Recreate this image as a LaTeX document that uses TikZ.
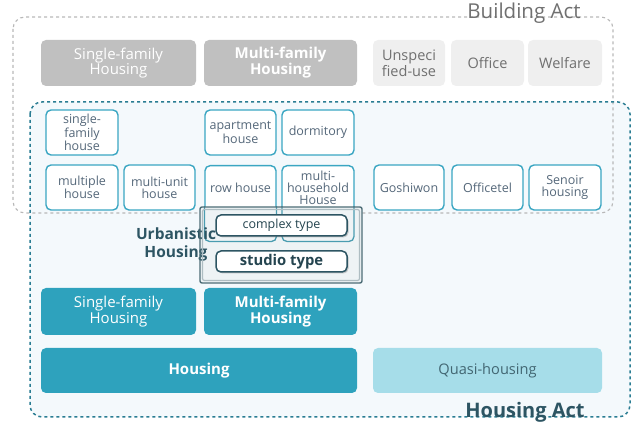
\documentclass[tikz,border=0pt]{standalone}
\usepackage{fontspec}
\setmainfont{Open Sans}
\usetikzlibrary{shadows}
\definecolor{teal1}{HTML}{2EA2BD}
\definecolor{tealline}{HTML}{3AA6C2}
\definecolor{tealdark}{HTML}{2A7D93}
\definecolor{quasi}{HTML}{A6DDE9}
\definecolor{grayA}{HTML}{C0C0C0}
\definecolor{grayB}{HTML}{EFEFEF}
\definecolor{txtgray}{HTML}{707070}
\definecolor{txtblue}{HTML}{55687A}
\definecolor{navy}{HTML}{2D5563}
\definecolor{actfill}{HTML}{F4F9FC}
\definecolor{veil}{HTML}{EEF3F5}
\definecolor{veilline}{HTML}{4A9CB0}
\definecolor{frame}{HTML}{4D6D76}
\begin{document}
\begin{tikzpicture}[x=1pt,y=-1pt,
  base/.style={rounded corners=5pt, inner sep=1pt, align=center, font=\fontsize{12.5}{12}\selectfont},
  bigtxt/.style={font=\fontsize{15}{14}\selectfont},
  bigbold/.style={font=\fontsize{15}{14}\selectfont\bfseries},
  graybox/.style={base, bigtxt, fill=grayA, text=white},
  lightbox/.style={base, fill=grayB, text=txtgray, font=\fontsize{14.5}{13.5}\selectfont},
  whitebox/.style={base, fill=white, draw=tealline, line width=1.4pt, text=txtblue},
  plaintxt/.style={align=center, inner sep=0pt, text=txtblue, font=\fontsize{12.5}{12}\selectfont},
  tealbox/.style={base, bigtxt, fill=teal1, text=white},
  innerbox/.style={base, fill=white, draw=navy, line width=1.5pt, text=navy!80!black,
    drop shadow={shadow xshift=1.5pt, shadow yshift=-1.5pt, opacity=0.4}},
]
\useasboundingbox (0,0) rectangle (632,427);

% Housing Act area
\fill[actfill, rounded corners=12pt] (30,102) rectangle (630,417);

% Building Act row
\node[graybox, minimum width=155pt, minimum height=46pt] (bsf) at (118.5,63) {Single-family\\Housing};
\node[graybox, bigbold, minimum width=153pt, minimum height=46pt] (bmf) at (280.5,63) {Multi-family\\Housing};
\node[lightbox, minimum width=72pt, minimum height=46pt] (bun) at (409,63) {Unspeci\\fied-use};
\node[lightbox, minimum width=73pt, minimum height=46pt] (bof) at (487.5,63) {Office};
\node[lightbox, minimum width=74pt, minimum height=46pt] (bwe) at (565,63) {Welfare};

% housing types
\node[whitebox, minimum width=72pt, minimum height=45pt] (sfh) at (82,132.5) {single-\\family\\house};
\node[whitebox, minimum width=71pt, minimum height=45pt] (apt) at (240.5,132.5) {apartment\\house};
\node[whitebox, minimum width=72pt, minimum height=45pt] (dor) at (318,132.5) {dormitory};
\node[whitebox, minimum width=72pt, minimum height=45pt] (mul) at (82,187.5) {multiple\\house};
\node[whitebox, minimum width=71pt, minimum height=45pt] (mun) at (159.5,187.5) {multi-unit\\house};
\node[whitebox, minimum width=71pt, minimum height=76pt, anchor=north] (row) at (240.5,165) {};
\node[plaintxt] (rowt) at (240.5,188) {row house};
\node[whitebox, minimum width=72pt, minimum height=76pt, anchor=north] (mhh) at (318,165) {};
\node[plaintxt] (mhht) at (318,188) {multi-\\household\\House};
\node[whitebox, minimum width=70pt, minimum height=45pt] (gos) at (409,187.5) {Goshiwon};
\node[whitebox, minimum width=71pt, minimum height=45pt] (oft) at (487.5,187.5) {Officetel};
\node[whitebox, minimum width=72pt, minimum height=45pt] (sen) at (565,187.5) {Senoir\\housing};

% dashed outlines of both acts
\draw[dashed, draw=black!28, line width=1.1pt, rounded corners=12pt] (13,17) rectangle (613,213);
\draw[dashed, draw=tealdark, line width=1.5pt, rounded corners=12pt] (30,102) rectangle (630,417);
\node[text=txtgray, font=\fontsize{20.5}{20}\selectfont] (bact) at (524,13) {Building Act};
\node[text=navy, font=\fontsize{20}{20}\selectfont\bfseries] (hact) at (525,412) {Housing Act};

% urbanistic housing: a tinted frame laid over the two multi-family boxes
\fill[veil, rounded corners=2pt] (200,207) rectangle (362,283);
\begin{scope}
  \clip (200,207) rectangle (362,283);
  \draw[veilline, line width=1.3pt, rounded corners=5pt] (204.5,164.5) rectangle (276.5,241.5);
  \draw[veilline, line width=1.3pt, rounded corners=5pt] (282,164.5) rectangle (354,241.5);
\end{scope}
\node[text=navy, font=\fontsize{15.5}{18}\selectfont\bfseries, align=center] (urb) at (176,244) {Urbanistic\\Housing};
\draw[frame!40!veil, line width=1.2pt, rounded corners=2pt] (202.5,209.5) rectangle (359.5,280.5);
\node[draw=frame, line width=1.4pt, rounded corners=2pt,
  minimum width=162pt, minimum height=76pt] (urbbox) at (281,245) {};
\node[innerbox, minimum width=131pt, minimum height=21pt, font=\fontsize{12.5}{12}\selectfont] (cpx) at (281.5,225.5) {complex type};
\node[innerbox, minimum width=131pt, minimum height=21pt, font=\fontsize{14.8}{14}\selectfont\bfseries] (stu) at (281.5,261.5) {studio type};

% Housing Act categories
\node[tealbox, minimum width=155pt, minimum height=47pt] (hsf) at (118.5,311.5) {Single-family\\Housing};
\node[tealbox, bigbold, minimum width=153pt, minimum height=47pt] (hmf) at (280.5,311.5) {Multi-family\\Housing};
\node[tealbox, bigbold, minimum width=316pt, minimum height=45pt] (hou) at (199,370.5) {Housing};
\node[base, fill=quasi, text=navy!90, minimum width=229pt, minimum height=45pt, font=\fontsize{14.6}{14}\selectfont] (qua) at (487.5,370.5) {Quasi-housing};
\end{tikzpicture}
\end{document}
